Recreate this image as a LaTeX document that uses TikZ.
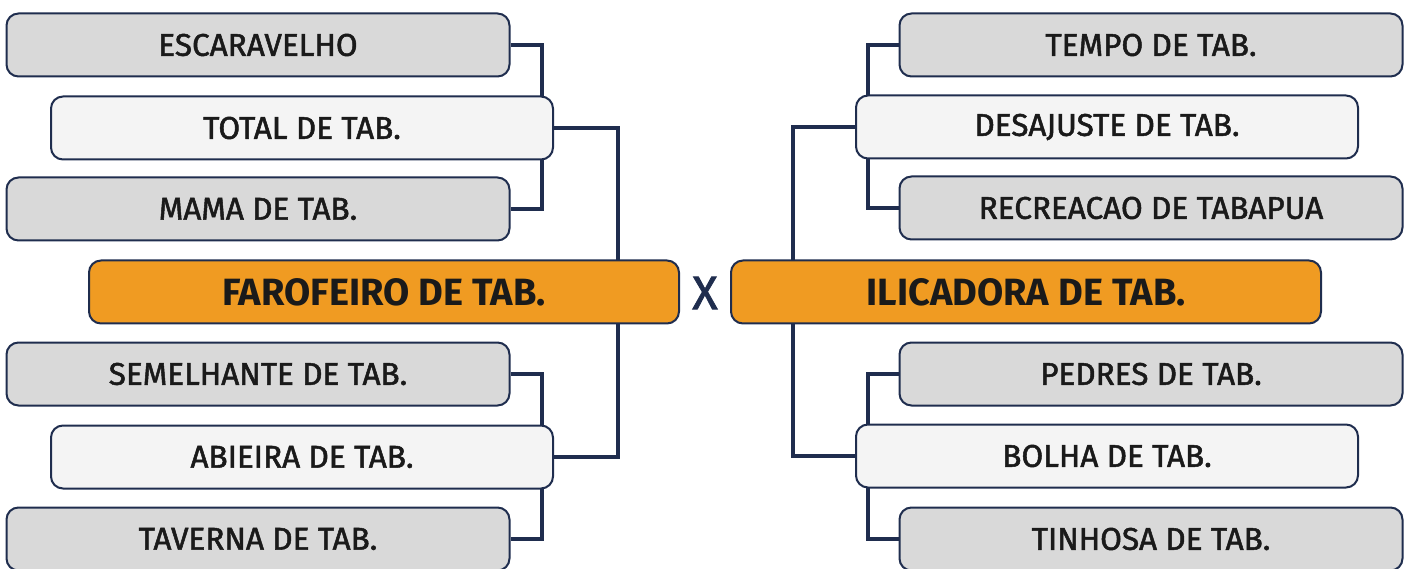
\documentclass[tikz,border=0pt]{standalone}
\usepackage{fontspec}
\setmainfont{Fira Sans}
\newfontfamily\medfont[FakeBold=1.6]{Fira Sans}
\usetikzlibrary{backgrounds}
\definecolor{navy}{HTML}{1F2D4E}
\definecolor{boxgrey}{HTML}{D9D9D9}
\definecolor{boxlight}{HTML}{F4F4F4}
\definecolor{boxorange}{HTML}{F09B22}
\definecolor{txt}{HTML}{1A1A1A}
\tikzset{
  base/.style={draw=navy, line width=2pt, rounded corners=12pt, text=txt, inner sep=0pt, minimum height=63pt},
  greybox/.style={base, fill=boxgrey, minimum width=503pt, font=\medfont\fontsize{31.5}{33}\selectfont},
  lightbox/.style={base, fill=boxlight, minimum width=502pt, font=\medfont\fontsize{31.5}{33}\selectfont},
  finalbox/.style={base, fill=boxorange, minimum width=590pt, font=\bfseries\fontsize{38}{40}\selectfont},
  link/.style={draw=navy, line width=4pt},
}
\begin{document}
\begin{tikzpicture}[x=1pt,y=-1pt]
\useasboundingbox (0,0) rectangle (1411,569);
% left
\node[greybox]  (esc)  at (258,45)  {ESCARAVELHO};
\node[lightbox] (tot)  at (302,128) {TOTAL DE TAB.};
\node[greybox]  (mama) at (258,209) {MAMA DE TAB.};
\node[finalbox] (faro) at (384,292) {FAROFEIRO DE TAB.};
\node[greybox]  (seme) at (258,374) {SEMELHANTE DE TAB.};
\node[lightbox] (abie) at (302,457) {ABIEIRA DE TAB.};
\node[greybox]  (tave) at (258,539) {TAVERNA DE TAB.};
% centre
\node[text=navy, font=\medfont\fontsize{47}{49}\selectfont, inner sep=0pt] (x) at (705,293) {X};
% right
\node[greybox]  (temp) at (1151,45)  {TEMPO DE TAB.};
\node[lightbox] (desa) at (1107,127) {DESAJUSTE DE TAB.};
\node[greybox]  (recr) at (1151,208) {RECREACAO DE TABAPUA};
\node[finalbox] (ilic) at (1026,292) {ILICADORA DE TAB.};
\node[greybox]  (pedr) at (1151,374) {PEDRES DE TAB.};
\node[lightbox] (bolh) at (1107,456) {BOLHA DE TAB.};
\node[greybox]  (tinh) at (1151,539) {TINHOSA DE TAB.};
\begin{scope}[on background layer]
\draw[link] (esc.east) -- ++(31,0) |- (mama.east);
\draw[link] (tot.east) -- ++(64,0) |- (abie.east);
\draw[link] (seme.east) -- ++(31,0) |- (tave.east);
\draw[link] (temp.west) -- ++(-31,0) |- (recr.west);
\draw[link] (desa.west) -- ++(-62,0) |- (bolh.west);
\draw[link] (pedr.west) -- ++(-31,0) |- (tinh.west);
\end{scope}
\end{tikzpicture}
\end{document}
